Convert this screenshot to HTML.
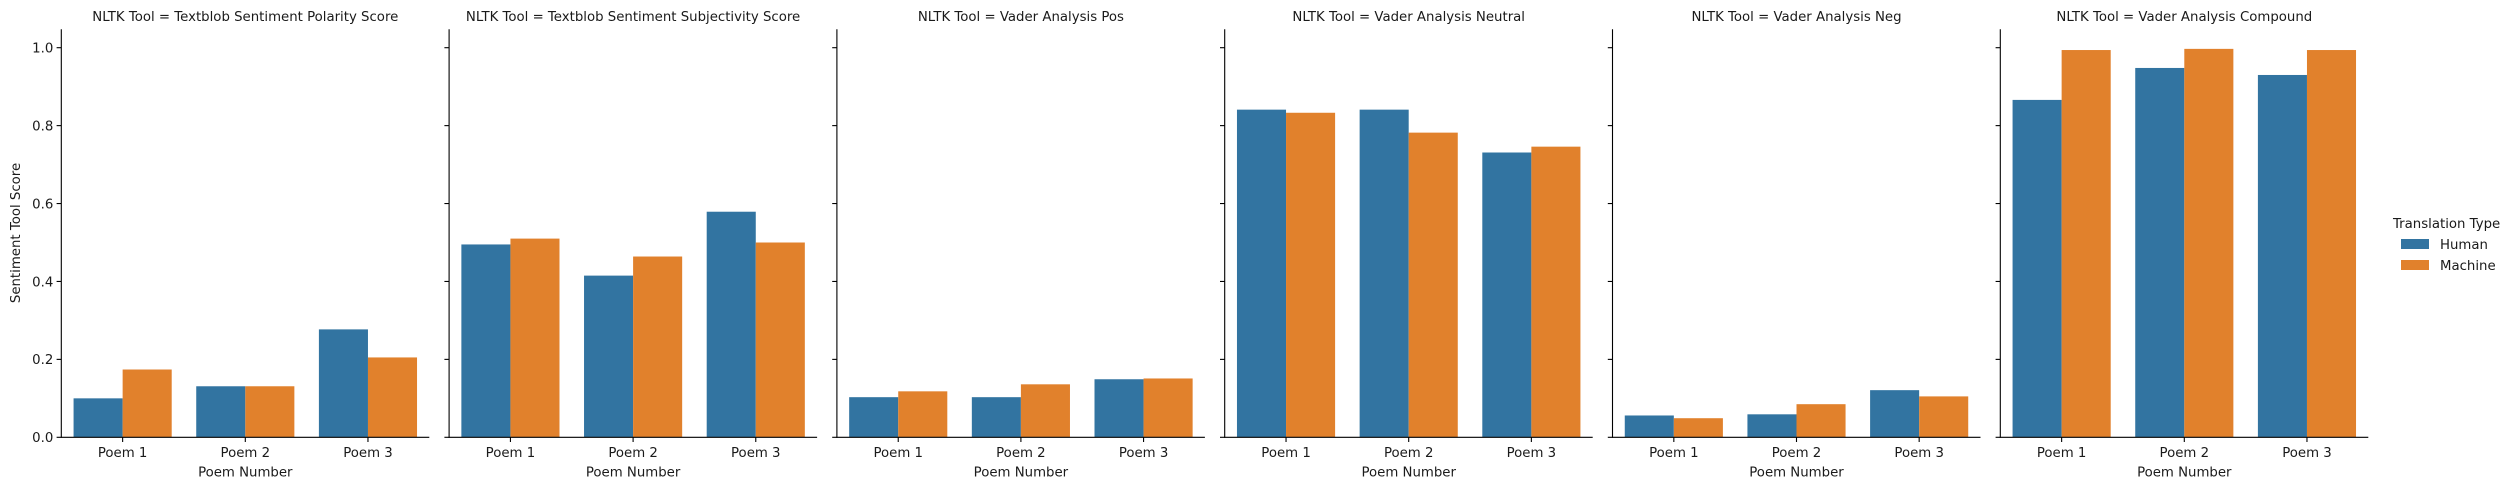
<!DOCTYPE html>
<html><head><meta charset="utf-8"><style>
html,body{margin:0;padding:0;background:#fff;}
svg text{font-family:"DejaVu Sans","Liberation Sans",sans-serif;fill:#1a1a1a;}
</style></head><body>
<svg id="chart" width="2518" height="490" xmlns="http://www.w3.org/2000/svg">
<g id="panels"></g>
<g>
<text x="2393" y="228" font-size="13.3">Translation Type</text>
<rect x="2401" y="239" width="28" height="10" fill="#3274a1"/>
<text x="2440" y="249" font-size="13.3">Human</text>
<rect x="2401" y="260" width="28" height="10" fill="#e1812c"/>
<text x="2440" y="270" font-size="13.3">Machine</text>
</g>
</svg>
<script>
const panelTitles = ["Textblob Sentiment Polarity Score","Textblob Sentiment Subjectivity Score","Vader Analysis Pos","Vader Analysis Neutral","Vader Analysis Neg","Vader Analysis Compound"];
const categories = ["Poem 1","Poem 2","Poem 3"];
const humanValues = [[0.100,0.131,0.277],[0.495,0.415,0.579],[0.103,0.103,0.149],[0.841,0.841,0.731],[0.056,0.059,0.121],[0.866,0.948,0.930]];
const machineValues = [[0.174,0.131,0.205],[0.510,0.464,0.500],[0.118,0.136,0.151],[0.833,0.782,0.746],[0.049,0.085,0.105],[0.994,0.997,0.994]];
const yTicks = [0.0,0.2,0.4,0.6,0.8,1.0];
const yTickLabels = ["0.0","0.2","0.4","0.6","0.8","1.0"];

const NS="http://www.w3.org/2000/svg";
const g=document.getElementById('panels');
const X0=61.3, PERIOD=387.8, W=368, Y0=437.3, UNIT=389.6, TOP=29.3;
function mk(t,a){const e=document.createElementNS(NS,t);for(const k in a)e.setAttribute(k,a[k]);return e;}
function yScale(v){return Y0 - v*UNIT;}
function xScale(p,i){return X0+p*PERIOD + (i+0.5)*W/categories.length;}
panelTitles.forEach((title,p)=>{
  const left=X0+p*PERIOD;
  const pg=mk('g',{});
  
  
  g.appendChild(pg);
  const bw=0.4*W/categories.length;
  categories.forEach((c,i)=>{
    const cx=xScale(p,i);
    const hb=mk('rect',{x:cx-bw,y:yScale(humanValues[p][i]),width:bw,height:humanValues[p][i]*UNIT,fill:'#3274a1'});
    
    
    pg.appendChild(hb);
    const mb=mk('rect',{x:cx,y:yScale(machineValues[p][i]),width:bw,height:machineValues[p][i]*UNIT,fill:'#e1812c'});
    
    
    pg.appendChild(mb);
    pg.appendChild(mk('line',{x1:cx,x2:cx,y1:Y0,y2:Y0+4.7,stroke:'#000','stroke-width':1.1}));
    const tl=mk('text',{x:cx,y:457,'font-size':13.3,'text-anchor':'middle'});
    tl.textContent=c;
    
    
    pg.appendChild(tl);
  });
  yTicks.forEach((v,k)=>{
    const y=yScale(v);
    pg.appendChild(mk('line',{x1:left-4.7,x2:left,y1:y,y2:y,stroke:'#000','stroke-width':1.1}));
    if(p===0){
      const t=mk('text',{x:left-8,y:y+4.8,'font-size':13.3,'text-anchor':'end'});
      t.textContent=yTickLabels[k];
      
      
      pg.appendChild(t);
    }
  });
  pg.appendChild(mk('line',{x1:left,x2:left,y1:TOP,y2:Y0+0.5,stroke:'#000','stroke-width':1.1}));
  pg.appendChild(mk('line',{x1:left-0.5,x2:left+W,y1:Y0,y2:Y0,stroke:'#000','stroke-width':1.1}));
  const tt=mk('text',{x:left+W/2,y:21,'font-size':13.3,'text-anchor':'middle'});
  tt.textContent='NLTK Tool = '+title;
  
  
  pg.appendChild(tt);
  const xl=mk('text',{x:left+W/2,y:476.5,'font-size':13.3,'text-anchor':'middle'});
  xl.textContent='Poem Number';
  
  
  pg.appendChild(xl);
});
const yl=mk('text',{x:0,y:0,'font-size':13.3,'text-anchor':'middle',transform:'translate(20,233) rotate(-90)'});
yl.textContent='Sentiment Tool Score';


g.appendChild(yl);
</script>
</body></html>
